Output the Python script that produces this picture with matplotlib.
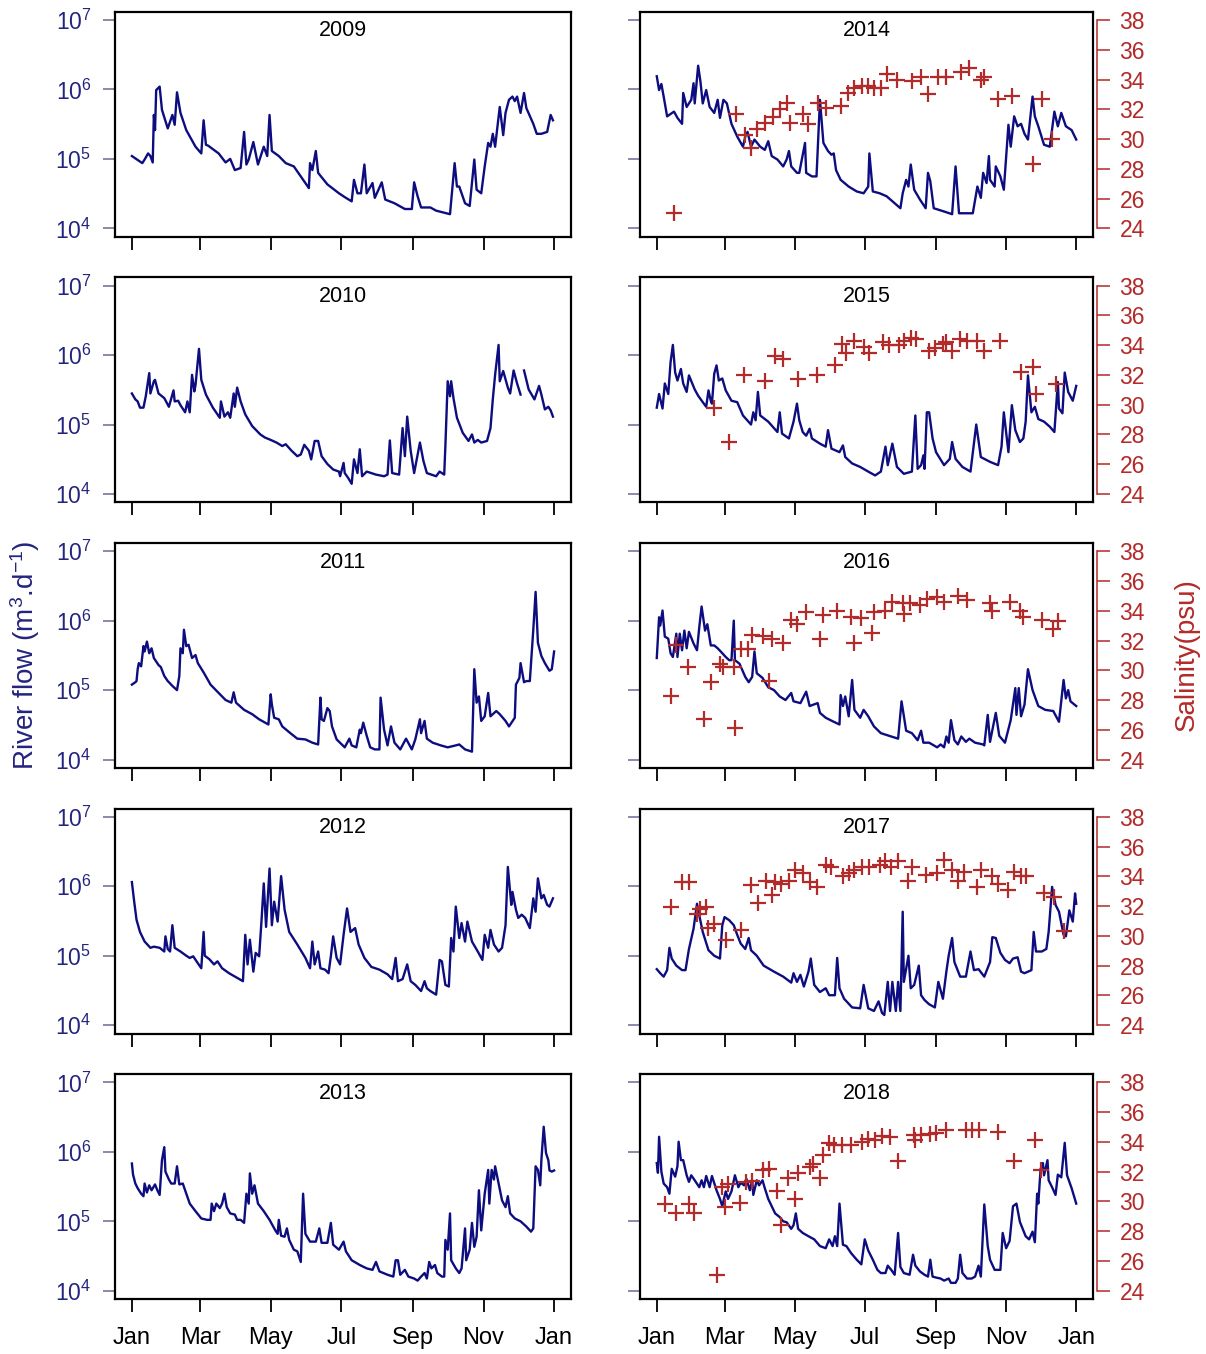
import numpy as np
import matplotlib.pyplot as plt
from matplotlib.ticker import NullLocator

plt.rcParams['font.family'] = ['Liberation Sans', 'DejaVu Sans']
plt.rcParams['mathtext.fontset'] = 'custom'
plt.rcParams['mathtext.rm'] = 'Liberation Sans'
plt.rcParams['mathtext.it'] = 'Liberation Sans:italic'
plt.rcParams['mathtext.bf'] = 'Liberation Sans:bold'

nan = np.nan

# river flow (m3/d), (day of year, value)
flow_2009 = [(1, 1.1e5), (10, 8.7e4), (12, 9.8e4), (15, 1.2e5), (17, 1.1e5), (19, 8.9e4), (20, 4.3e5), (21, 2.6e5),
             (22, 9.8e5), (25, 1.1e6), (27, 5.1e5), (32, 2.75e5), (36, 4.3e5), (38, 3.1e5), (40, 9.1e5), (43, 4.6e5),
             (48, 2.6e5), (56, 1.5e5), (61, 1.2e5), (63, 3.6e5), (65, 1.6e5), (67, 1.55e5), (76, 1.2e5), (82, 8.9e4),
             (86, 1.0e5), (90, 6.9e4), (95, 7.4e4), (98, 2.45e5), (100, 8.3e4), (102, 9.8e4), (106, 1.75e5),
             (110, 8.3e4), (115, 1.5e5), (118, 1.1e5), (120, 4.3e5), (122, 1.3e5), (128, 1.1e5), (134, 8.7e4),
             (141, 7.8e4), (147, 5.6e4), (154, 3.8e4), (155, 8.7e4), (157, 6.9e4), (160, 1.3e5), (162, 6.3e4),
             (170, 4.3e4), (180, 3.2e4), (186, 2.75e4), (191, 2.45e4), (193, 5.0e4), (196, 3.2e4), (199, 3.2e4),
             (202, 8.3e4), (204, 3.2e4), (209, 4.5e4), (211, 2.75e4), (217, 4.6e4), (220, 2.6e4), (228, 2.3e4),
             (237, 1.9e4), (243, 1.9e4), (245, 4.6e4), (248, 2.9e4), (251, 2.0e4), (259, 2.0e4), (264, 1.8e4),
             (276, 1.6e4), (280, 8.7e4), (282, 4.0e4), (284, 4.0e4), (289, 2.3e4), (293, 2.1e4), (297, 9.8e4),
             (299, 3.6e4), (303, 3.2e4), (306, 7.8e4), (309, 1.7e5), (311, 1.5e5), (313, 2.3e5), (315, 1.5e5),
             (319, 5.6e5), (322, 2.2e5), (324, 4.6e5), (327, 7.1e5), (330, 7.9e5), (332, 6.8e5), (334, 7.9e5),
             (337, 4.6e5), (340, 8.9e5), (342, 5.4e5), (348, 3.2e5), (351, 2.3e5), (355, 2.3e5), (360, 2.45e5),
             (363, 4.3e5), (365, 3.6e5)]

flow_2010 = [(1, 2.8e5), (4, 2.3e5), (6, 2.15e5), (8, 1.75e5), (11, 1.75e5), (13, 2.55e5), (16, 5.5e5), (17, 2.8e5),
             (20, 4.2e5), (21, 4.4e5), (24, 2.8e5), (29, 2.4e5), (33, 1.8e5), (37, 3.1e5), (38, 2.15e5), (41, 2.2e5),
             (43, 1.9e5), (47, 1.5e5), (49, 2.15e5), (51, 1.5e5), (53, 5.2e5), (55, 3.0e5), (56, 3.7e5), (59, 1.23e6),
             (61, 4.4e5), (65, 2.7e5), (71, 1.75e5), (77, 1.25e5), (78, 2.15e5), (81, 1.3e5), (84, 1.5e5),
             (86, 1.25e5), (89, 2.8e5), (90, 1.8e5), (92, 3.4e5), (95, 2.15e5), (99, 1.4e5), (105, 9.5e4),
             (112, 7.2e4), (116, 6.5e4), (121, 6.0e4), (126, 5.5e4), (131, 4.9e4), (134, 5.2e4), (139, 4.2e4),
             (144, 3.5e4), (147, 3.7e4), (150, 5.1e4), (154, 4.2e4), (156, 3.15e4), (159, 5.8e4), (162, 5.8e4),
             (165, 3.5e4), (170, 2.7e4), (175, 2.25e4), (180, 2.1e4), (181, 1.8e4), (184, 2.8e4), (185, 2.0e4),
             (188, 1.7e4), (191, 1.4e4), (193, 3.15e4), (196, 2.0e4), (198, 4.4e4), (200, 1.8e4), (204, 2.1e4),
             (212, 1.9e4), (219, 1.8e4), (222, 1.9e4), (224, 5.9e4), (226, 2.0e4), (232, 1.9e4), (235, 8.9e4),
             (237, 3.5e4), (239, 1.3e5), (242, 4.2e4), (245, 2.0e4), (250, 5.5e4), (253, 3.0e4), (256, 2.0e4),
             (264, 1.8e4), (267, 2.1e4), (271, 1.9e4), (272, 4.9e4), (274, 4.2e5), (276, 2.55e5), (277, 4.2e5),
             (279, 2.4e5), (282, 1.25e5), (287, 7.6e4), (292, 5.8e4), (295, 7.2e4), (297, 5.5e4), (300, 6.0e4),
             (303, 5.5e4), (308, 5.8e4), (311, 8.9e4), (313, 2.3e5), (315, 5.2e5), (318, 1.4e6), (319, 4.2e5),
             (322, 5.9e5), (326, 3.4e5), (328, 2.8e5), (331, 6.0e5), (334, 3.9e5), (337, 2.7e5), (339, nan),
             (340, 6.0e5), (344, 3.2e5), (349, 2.3e5), (353, 3.6e5), (355, 2.7e5), (358, 1.65e5), (361, 1.8e5),
             (363, 1.6e5), (365, 1.3e5)]

flow_2011 = [(1, 1.2e5), (4, 1.3e5), (5, 1.35e5), (6, 2.0e5), (7, 2.45e5), (9, 2.2e5), (11, 4.3e5), (12, 3.6e5),
             (14, 5.0e5), (16, 3.4e5), (18, 4.0e5), (20, 2.9e5), (24, 2.3e5), (26, 2.15e5), (29, 1.6e5), (32, 1.35e5),
             (33, 1.3e5), (36, 1.15e5), (40, 1.0e5), (42, 1.6e5), (43, 4.0e5), (45, 3.4e5), (46, 7.4e5), (48, 4.3e5),
             (50, 4.5e5), (53, 2.9e5), (56, 3.2e5), (58, 2.45e5), (63, 1.8e5), (69, 1.2e5), (76, 9.1e4), (82, 7.2e4),
             (87, 6.6e4), (89, 9.3e4), (91, 6.6e4), (98, 5.2e4), (105, 4.5e4), (111, 3.8e4), (119, 3.2e4),
             (121, 8.7e4), (122, 6.2e4), (124, 4.0e4), (128, 3.8e4), (131, 3.0e4), (138, 2.4e4), (144, 2.0e4),
             (151, 1.95e4), (157, 1.75e4), (162, 1.65e4), (164, 7.8e4), (165, 3.8e4), (167, 3.6e4), (170, 5.5e4),
             (172, 5.0e4), (174, 3.0e4), (178, 1.95e4), (185, 1.5e4), (189, 2.0e4), (191, 1.6e4), (195, 1.5e4),
             (198, 2.7e4), (199, 2.4e4), (201, 3.4e4), (204, 2.2e4), (207, 1.5e4), (211, 1.4e4), (215, 1.4e4),
             (216, 7.8e4), (219, 2.7e4), (222, 1.6e4), (225, 3.0e4), (228, 1.75e4), (233, 1.4e4), (238, 2.0e4),
             (243, 1.4e4), (246, 1.95e4), (250, 3.8e4), (251, 2.4e4), (254, 3.6e4), (256, 2.0e4), (261, 1.75e4),
             (268, 1.6e4), (274, 1.5e4), (281, 1.6e4), (284, 1.65e4), (289, 1.4e4), (295, 1.3e4), (297, 2.0e5),
             (299, 6.6e4), (301, 8.1e4), (303, 3.6e4), (306, 4.2e4), (309, 9.1e4), (311, 4.2e4), (316, 5.0e4),
             (319, 4.5e4), (324, 3.6e4), (327, 3.0e4), (332, 4.0e4), (333, 1.2e5), (336, 1.5e5), (337, 2.45e5),
             (340, 1.3e5), (342, 1.35e5), (345, 1.35e5), (348, 7.4e5), (350, 2.6e6), (352, 4.8e5), (355, 3.1e5),
             (358, 2.45e5), (362, 1.9e5), (364, 2.0e5), (366, 3.6e5)]

flow_2012 = [(1, 1.15e6), (3, 6.0e5), (5, 3.3e5), (8, 2.2e5), (12, 1.6e5), (17, 1.3e5), (20, 1.35e5), (25, 1.3e5),
             (29, 1.15e5), (30, 1.9e5), (32, 1.25e5), (34, 1.15e5), (36, 2.75e5), (38, 1.3e5), (43, 1.15e5),
             (48, 1.0e5), (51, 9.3e4), (54, 9.8e4), (58, 7.8e4), (61, 6.6e4), (63, 2.2e5), (64, 1.0e5), (68, 8.9e4),
             (72, 7.5e4), (75, 8.3e4), (79, 6.6e4), (85, 5.6e4), (92, 4.8e4), (97, 4.3e4), (99, 2.0e5), (101, 7.5e4),
             (103, 1.7e5), (106, 5.9e4), (108, 1.1e5), (111, 9.8e4), (113, 3.1e5), (115, 1.1e6), (117, 2.6e5),
             (120, 1.8e6), (122, 2.75e5), (124, 6.0e5), (127, 3.1e5), (130, 1.4e6), (133, 4.6e5), (137, 2.2e5),
             (144, 1.45e5), (151, 9.3e4), (155, 6.6e4), (157, 1.6e5), (159, 7.5e4), (162, 1.15e5), (164, 6.6e4),
             (168, 6.3e4), (171, 5.6e4), (173, 9.8e4), (175, 1.9e5), (178, 9.3e4), (181, 7.5e4), (184, 2.0e5),
             (187, 4.8e5), (190, 2.2e5), (194, 2.5e5), (197, 1.45e5), (202, 9.3e4), (208, 6.9e4), (215, 6.3e4),
             (222, 5.4e4), (226, 4.6e4), (229, 9.3e4), (231, 4.3e4), (235, 4.6e4), (239, 7.5e4), (242, 4.3e4),
             (246, 3.8e4), (251, 3.1e4), (254, 4.3e4), (256, 3.4e4), (259, 3.1e4), (264, 2.75e4), (267, 8.7e4),
             (269, 8.3e4), (272, 3.8e4), (275, 3.6e4), (277, 1.8e5), (279, 1.15e5), (281, 5.1e5), (284, 1.8e5),
             (286, 2.95e5), (289, 1.6e5), (291, 3.1e5), (295, 1.6e5), (300, 1.15e5), (304, 8.7e4), (306, 2.0e5),
             (309, 1.3e5), (311, 2.35e5), (314, 1.45e5), (318, 1.15e5), (321, 1.3e5), (324, 2.75e5), (326, 1.9e6),
             (329, 5.4e5), (330, 8.3e5), (333, 4.6e5), (335, 3.5e5), (338, 3.9e5), (341, 3.5e5), (345, 2.5e5),
             (348, 6.7e5), (350, 4.3e5), (352, 1.3e6), (355, 6.7e5), (357, 7.5e5), (360, 5.4e5), (362, 5.1e5),
             (365, 6.7e5)]

flow_2013 = [(1, 6.8e5), (2, 4.7e5), (4, 3.5e5), (6, 3.0e5), (9, 2.5e5), (11, 2.3e5), (12, 3.5e5), (14, 2.6e5),
             (16, 3.3e5), (18, 2.8e5), (21, 3.4e5), (23, 2.8e5), (25, 2.4e5), (27, 7.6e5), (29, 1.17e6), (30, 5.2e5),
             (33, 4.0e5), (35, 3.5e5), (38, 3.5e5), (40, 6.2e5), (42, 3.4e5), (45, 3.5e5), (48, 2.5e5), (51, 1.8e5),
             (56, 1.4e5), (61, 1.1e5), (66, 1.05e5), (69, 1.05e5), (70, 1.8e5), (72, 1.4e5), (74, 1.8e5),
             (77, 1.55e5), (79, 1.8e5), (81, 2.5e5), (83, 1.6e5), (86, 1.3e5), (90, 1.25e5), (92, 1.05e5),
             (95, 1.05e5), (98, 9.5e4), (100, 2.5e5), (102, 1.8e5), (103, 4.9e5), (105, 2.5e5), (107, 3.3e5),
             (110, 1.8e5), (115, 1.4e5), (120, 1.05e5), (125, 7.4e4), (127, 6.6e4), (128, 1.05e5), (130, 6.2e4),
             (133, 6.0e4), (135, 7.9e4), (137, 5.4e4), (141, 3.9e4), (144, 3.7e4), (147, 2.6e4), (149, 2.5e5),
             (151, 6.6e4), (155, 5.1e4), (160, 5.1e4), (163, 7.9e4), (165, 4.9e4), (170, 4.9e4), (173, 9.5e4),
             (175, 4.6e4), (180, 3.9e4), (184, 5.1e4), (186, 3.7e4), (191, 2.75e4), (198, 2.35e4), (204, 2.1e4),
             (209, 2.0e4), (212, 2.6e4), (215, 1.9e4), (222, 1.7e4), (227, 1.6e4), (229, 2.75e4), (231, 2.75e4),
             (233, 1.7e4), (237, 2.0e4), (240, 1.6e4), (245, 1.5e4), (248, 1.4e4), (251, 1.6e4), (254, 1.8e4),
             (256, 1.5e4), (258, 2.6e4), (260, 2.1e4), (263, 2.35e4), (265, 1.8e4), (269, 1.6e4), (271, 1.6e4),
             (272, 5.4e4), (274, 3.9e4), (276, 1.3e5), (277, 2.75e4), (281, 2.1e4), (284, 1.8e4), (286, 2.1e4),
             (289, 7.9e4), (290, 2.75e4), (293, 3.9e4), (295, 9.5e4), (297, 4.3e4), (299, 6.0e4), (301, 2.8e5),
             (303, 7.4e4), (306, 2.5e5), (309, 5.5e5), (310, 1.8e5), (312, 5.5e5), (314, 4.0e5), (315, 6.2e5),
             (318, 3.5e5), (321, 2.0e5), (324, 1.6e5), (326, 2.3e5), (328, 1.3e5), (332, 1.1e5), (337, 1.0e5),
             (342, 8.4e4), (346, 7.1e4), (348, 7.9e4), (350, 6.2e5), (352, 5.5e5), (354, 3.3e5), (355, 7.6e5),
             (357, 2.3e6), (359, 9.6e5), (361, 7.6e5), (362, 5.4e5), (364, 5.2e5), (366, 5.4e5)]

flow_2014 = [(1, 1.55e6), (3, 9.8e5), (5, 1.2e6), (7, 7.9e5), (10, 4.1e5), (16, 4.8e5), (19, 3.9e5), (23, 3.2e5),
             (24, 8.9e5), (27, 5.6e5), (31, 7.1e5), (33, 1.23e6), (34, 6.3e5), (37, 2.2e6), (39, 1.3e6), (41, 6.3e5),
             (44, 9.8e5), (47, 5.6e5), (51, 4.6e5), (54, 7.1e5), (56, 3.9e5), (59, 7.1e5), (62, 6.3e5), (66, 3.2e5),
             (71, 2.1e5), (76, 1.5e5), (78, 2.1e5), (80, 2.45e5), (83, 1.5e5), (86, 1.9e5), (91, 1.5e5),
             (95, 1.35e5), (98, 1.8e5), (101, 1.1e5), (106, 9.8e4), (111, 7.8e4), (114, 9.8e4), (116, 1.3e5),
             (118, 7.8e4), (123, 6.3e4), (125, 6.3e4), (130, 1.7e5), (131, 6.3e4), (136, 5.6e4), (140, 5.6e4),
             (143, 7.1e5), (146, 1.7e5), (150, 1.3e5), (153, 1.15e5), (155, 1.2e5), (157, 6.9e4), (161, 5.0e4),
             (168, 4.0e4), (175, 3.4e4), (181, 3.2e4), (185, 4.0e4), (186, 1.2e5), (189, 3.4e4), (195, 3.2e4),
             (201, 2.9e4), (208, 2.3e4), (213, 1.95e4), (215, 3.2e4), (218, 5.0e4), (220, 4.0e4), (222, 8.3e4),
             (225, 3.6e4), (230, 2.6e4), (235, 1.95e4), (237, 6.3e4), (239, 4.8e4), (242, 1.95e4), (251, 1.75e4),
             (258, 1.6e4), (261, 7.8e4), (264, 1.65e4), (271, 1.65e4), (276, 1.65e4), (280, 4.0e4), (283, 2.75e4),
             (285, 6.3e4), (288, 4.5e4), (290, 1.1e5), (291, 5.0e4), (295, 4.0e4), (296, 7.8e4), (300, 5.6e4),
             (303, 3.6e4), (307, 3.1e5), (309, 1.5e5), (312, 4.1e5), (315, 2.95e5), (318, 3.2e5), (321, 2.3e5),
             (324, 1.9e5), (328, 7.9e5), (330, 4.1e5), (333, 2.95e5), (338, 1.6e5), (343, 1.5e5), (347, 4.8e5),
             (350, 2.95e5), (353, 4.6e5), (357, 2.95e5), (362, 2.6e5), (366, 1.9e5)]

flow_2015 = [(1, 1.75e5), (3, 2.75e5), (6, 1.7e5), (8, 3.9e5), (11, 2.75e5), (13, 7.9e5), (15, 1.4e6), (17, 5.6e5),
             (19, 4.3e5), (22, 6.3e5), (24, 3.9e5), (27, 2.95e5), (29, 5.1e5), (34, 3.2e5), (37, 2.6e5), (41, 2.1e5),
             (44, 1.8e5), (46, 3.1e5), (48, 2.2e5), (49, 2.0e5), (51, 5.4e5), (53, 7.1e5), (55, 4.3e5), (58, 4.6e5),
             (61, 3.1e5), (66, 2.2e5), (71, 2.1e5), (76, 1.35e5), (83, 1.0e5), (85, 1.5e5), (87, 1.15e5),
             (89, 2.95e5), (91, 1.35e5), (98, 1.1e5), (106, 7.8e4), (108, 1.5e5), (110, 7.4e4), (116, 6.3e4),
             (120, 1.1e5), (123, 2.0e5), (125, 1.15e5), (128, 7.8e4), (131, 6.9e4), (134, 8.7e4), (136, 6.3e4),
             (143, 5.3e4), (148, 4.8e4), (150, 8.3e4), (153, 4.5e4), (160, 4.0e4), (163, 5.0e4), (165, 3.4e4),
             (171, 2.75e4), (178, 2.45e4), (185, 2.1e4), (191, 1.85e4), (196, 2.1e4), (200, 4.8e4), (202, 2.6e4),
             (206, 5.3e4), (210, 2.45e4), (216, 1.95e4), (223, 2.1e4), (226, 1.35e5), (228, 2.3e4), (231, 2.6e4),
             (233, 3.6e4), (234, 2.3e4), (236, 1.5e5), (238, 1.5e5), (241, 6.3e4), (244, 4.0e4), (251, 2.6e4),
             (256, 3.2e4), (258, 5.6e4), (261, 3.2e4), (267, 2.45e4), (274, 2.1e4), (279, 1.0e5), (283, 3.4e4),
             (291, 2.9e4), (298, 2.6e4), (301, 4.8e4), (303, 1.5e5), (307, 4.0e4), (310, 1.9e5), (313, 8.3e4),
             (317, 5.6e4), (320, 6.3e4), (322, 1.1e5), (324, 5.1e5), (327, 1.5e5), (330, 1.8e5), (333, 1.2e5),
             (338, 1.1e5), (343, 9.3e4), (347, 7.8e4), (350, 4.1e5), (351, 1.7e5), (354, 1.45e5), (356, 5.6e5),
             (359, 2.95e5), (363, 2.2e5), (366, 3.6e5)]

flow_2016 = [(1, 2.9e5), (3, 1.12e6), (4, 8.5e5), (6, 1.4e6), (8, 5.9e5), (11, 5.5e5), (13, 3.4e5), (15, 3.0e5),
             (18, 6.5e5), (19, 3.0e5), (21, 6.5e5), (23, 3.75e5), (25, 7.2e5), (27, 4.0e5), (29, 6.9e5), (33, 4.7e5),
             (36, 3.75e5), (38, 8.1e5), (40, 1.6e6), (43, 7.2e5), (45, 8.9e5), (48, 4.4e5), (51, 4.4e5), (54, 4.0e5),
             (58, 3.4e5), (61, 3.0e5), (64, 2.7e5), (66, 2.7e5), (68, 1.0e6), (69, 2.7e5), (73, 2.4e5), (78, 1.55e5),
             (81, 1.3e5), (84, 1.55e5), (86, 3.6e5), (88, 1.75e5), (93, 1.5e5), (98, 1.1e5), (103, 1.0e5),
             (108, 8.1e4), (113, 7.2e4), (118, 9.1e4), (120, 6.9e4), (126, 6.5e4), (131, 9.5e4), (134, 5.9e4),
             (141, 6.5e4), (143, 4.7e4), (148, 4.0e4), (155, 3.5e4), (160, 3.2e4), (161, 8.5e4), (163, 5.9e4),
             (165, 8.1e4), (168, 4.2e4), (171, 1.4e5), (173, 5.2e4), (178, 4.0e4), (181, 5.2e4), (185, 4.2e4),
             (190, 3.0e4), (196, 2.4e4), (205, 2.15e4), (211, 2.0e4), (214, 6.9e4), (218, 2.6e4), (223, 2.4e4),
             (228, 1.9e4), (231, 2.6e4), (233, 1.75e4), (238, 1.75e4), (245, 1.5e4), (248, 1.65e4), (251, 1.5e4),
             (253, 2.15e4), (255, 1.75e4), (257, 3.7e4), (260, 1.9e4), (263, 1.65e4), (266, 2.15e4), (270, 1.8e4),
             (273, 2.0e4), (278, 1.75e4), (285, 1.65e4), (286, 1.6e4), (289, 4.4e4), (291, 1.8e4), (296, 4.7e4),
             (299, 2.2e4), (304, 1.75e4), (309, 3.7e4), (313, 1.07e5), (314, 4.4e4), (316, 1.07e5), (318, 4.2e4),
             (321, 6.2e4), (324, 2.0e5), (328, 1.0e5), (333, 5.9e4), (339, 5.2e4), (346, 5.0e4), (351, 3.5e4),
             (355, 1.4e5), (357, 7.6e4), (359, 1.0e5), (361, 6.9e4), (366, 5.9e4)]

flow_2017 = [(1, 6.4e4), (4, 5.6e4), (7, 5.0e4), (10, 6.2e4), (12, 1.3e5), (14, 9.1e4), (18, 7.2e4), (23, 6.2e4),
             (26, 6.2e4), (29, 1.25e5), (33, 2.45e5), (36, 5.6e5), (38, 3.8e5), (41, 2.2e5), (46, 1.2e5), (51, 1.0e5),
             (56, 9.1e4), (58, 2.75e5), (60, 3.6e5), (64, 3.25e5), (68, 2.75e5), (71, 2.0e5), (74, 1.5e5),
             (78, 1.25e5), (81, 1.8e5), (83, 1.2e5), (88, 1.0e5), (94, 7.2e4), (103, 5.9e4), (111, 5.0e4),
             (118, 4.1e4), (120, 5.6e4), (123, 4.2e4), (126, 5.3e4), (129, 3.6e4), (133, 5.9e4), (135, 9.1e4),
             (138, 3.8e4), (143, 3.0e4), (148, 3.4e4), (151, 2.7e4), (156, 2.7e4), (158, 9.3e4), (160, 3.4e4),
             (164, 2.4e4), (171, 1.8e4), (178, 1.75e4), (181, 3.8e4), (185, 1.75e4), (190, 1.6e4), (194, 2.2e4),
             (197, 1.5e4), (199, 1.4e4), (202, 4.2e4), (204, 1.6e4), (206, 4.2e4), (209, 1.6e4), (211, 4.2e4),
             (213, 1.6e4), (215, 4.3e5), (216, 4.2e4), (220, 1.0e5), (222, 3.4e4), (225, 3.8e4), (229, 7.2e4),
             (231, 2.7e4), (234, 2.3e4), (238, 2.0e4), (243, 1.8e4), (246, 4.2e4), (250, 2.4e4), (253, 5.9e4),
             (255, 1.0e5), (258, 1.8e5), (260, 8.1e4), (265, 5.0e4), (270, 5.0e4), (274, 1.15e5), (277, 6.2e4),
             (281, 6.4e4), (286, 5.0e4), (291, 8.1e4), (293, 1.85e5), (296, 1.8e5), (300, 1.1e5), (304, 8.7e4),
             (308, 7.8e4), (311, 9.1e4), (315, 9.5e4), (318, 5.9e4), (321, 5.6e4), (327, 6.2e4), (329, 2.2e5),
             (331, 1.15e5), (336, 1.15e5), (340, 1.25e5), (342, 2.2e5), (345, 9.8e5), (348, 5.4e5), (351, 4.3e5),
             (355, 2.0e5), (357, 1.9e5), (360, 4.5e5), (363, 3.1e5), (365, 7.9e5), (366, 5.6e5)]

flow_2018 = [(1, 6.9e5), (2, 5.0e5), (3, 1.65e6), (5, 5.2e5), (7, 3.5e5), (10, 3.1e5), (12, 2.5e5), (14, 5.7e5),
             (17, 4.4e5), (19, 6.2e5), (20, 1.4e6), (22, 7.6e5), (24, 7.6e5), (27, 4.6e5), (29, 3.7e5), (31, 4.6e5),
             (34, 3.9e5), (38, 3.1e5), (40, 3.9e5), (42, 3.1e5), (44, 4.5e5), (47, 3.1e5), (49, 4.5e5), (53, 2.8e5),
             (56, 2.1e5), (58, 1.65e5), (61, 2.7e5), (63, 2.1e5), (66, 2.7e5), (69, 4.6e5), (72, 3.1e5), (74, 3.6e5),
             (77, 3.3e5), (79, 4.1e5), (82, 2.8e5), (84, 3.9e5), (85, 2.4e5), (88, 3.9e5), (90, 3.3e5), (93, 3.9e5),
             (95, 3.0e5), (98, 2.1e5), (101, 1.65e5), (104, 1.3e5), (108, 1.15e5), (111, 1.0e5), (114, 9.7e4),
             (118, 7.8e4), (120, 8.8e4), (122, 1.3e5), (124, 7.8e4), (128, 6.8e4), (133, 6.1e4), (138, 5.5e4),
             (143, 4.4e4), (148, 4.1e4), (151, 5.5e4), (154, 4.4e4), (156, 6.1e4), (158, 4.4e4), (160, 1.8e5),
             (163, 4.6e4), (166, 4.4e4), (170, 3.5e4), (175, 2.8e4), (179, 2.4e4), (182, 5.5e4), (185, 3.8e4),
             (189, 2.8e4), (193, 2.0e4), (196, 1.8e4), (200, 1.8e4), (202, 2.3e4), (205, 2.0e4), (208, 1.7e4),
             (211, 6.8e4), (213, 2.2e4), (216, 1.8e4), (221, 1.7e4), (224, 3.3e4), (226, 2.3e4), (230, 1.9e4),
             (234, 1.7e4), (237, 1.6e4), (239, 2.8e4), (241, 1.6e4), (244, 1.55e4), (248, 1.5e4), (251, 1.4e4),
             (255, 1.5e4), (257, 1.3e4), (261, 1.3e4), (263, 1.5e4), (265, 3.3e4), (267, 1.8e4), (271, 1.5e4),
             (275, 1.5e4), (278, 1.6e4), (281, 2.3e4), (283, 1.6e4), (286, 1.75e5), (289, 4.4e4), (291, 2.8e4),
             (295, 2.0e4), (300, 2.0e4), (302, 6.8e4), (305, 4.1e4), (308, 5.2e4), (311, 1.65e5), (314, 1.8e5),
             (317, 9.8e4), (322, 6.1e4), (325, 5.5e4), (328, 7.1e4), (330, 5.0e4), (332, 2.5e5), (333, 1.8e5),
             (335, 5.7e5), (337, 6.9e5), (338, 4.6e5), (341, 7.6e5), (342, 3.9e5), (345, 3.1e5), (348, 2.4e5),
             (350, 4.7e5), (353, 4.3e5), (356, 1.35e6), (358, 4.6e5), (362, 3.0e5), (366, 1.8e5)]

# salinity (psu), (day of year, value)
sal_2014 = [(16, 25.0), (70, 31.7), (78, 30.3), (83, 29.4), (88, 30.7), (95, 31.1), (102, 31.5), (108, 32.0),
            (114, 32.4), (117, 31.1), (128, 31.7), (133, 31.0), (141, 32.4), (148, 32.1), (161, 32.2), (167, 33.1),
            (173, 33.4), (180, 33.6), (185, 33.6), (190, 33.4), (196, 33.4), (201, 34.4), (210, 34.0), (223, 33.9),
            (231, 34.2), (237, 33.0), (246, 34.2), (253, 34.2), (266, 34.5), (273, 34.8), (283, 34.0), (286, 34.2),
            (298, 32.7), (310, 32.9), (328, 28.3), (336, 32.7), (345, 30.0)]

sal_2015 = [(51, 29.8), (64, 27.5), (77, 32.0), (95, 31.6), (104, 33.3), (111, 33.1), (124, 31.7), (140, 32.0),
            (156, 32.7), (162, 34.1), (166, 33.5), (173, 34.3), (181, 33.9), (186, 33.5), (198, 34.2), (203, 34.0),
            (212, 34.0), (216, 34.3), (222, 34.5), (227, 34.4), (238, 33.6), (243, 33.8), (250, 34.1), (253, 34.2),
            (258, 33.6), (265, 34.4), (271, 34.3), (280, 34.3), (286, 33.6), (300, 34.3), (318, 32.2), (328, 32.5),
            (331, 30.7), (348, 31.4)]

sal_2016 = [(13, 28.3), (18, 31.7), (28, 30.2), (42, 26.7), (48, 29.2), (56, 30.4), (59, 30.2), (68, 30.2),
            (69, 26.1), (74, 31.4), (80, 31.4), (84, 32.4), (93, 32.3), (99, 29.3), (101, 32.1), (111, 31.8),
            (118, 33.4), (123, 33.1), (131, 33.9), (143, 32.1), (146, 33.7), (158, 34.0), (170, 33.6), (173, 31.8),
            (179, 33.5), (188, 32.5), (190, 33.9), (200, 34.0), (206, 34.6), (215, 34.5), (216, 33.8), (221, 34.5),
            (230, 34.4), (236, 34.8), (245, 34.9), (251, 34.6), (263, 35.0), (271, 34.7), (291, 34.5), (293, 34.0),
            (308, 34.6), (317, 34.0), (320, 33.6), (336, 33.4), (346, 32.8), (350, 33.3)]

sal_2017 = [(13, 31.95), (23, 33.6), (29, 33.6), (36, 31.5), (39, 31.8), (44, 31.95), (46, 30.5), (51, 30.8),
            (61, 29.7), (74, 30.4), (83, 33.4), (89, 32.2), (96, 33.7), (101, 32.75), (104, 33.6), (109, 33.5),
            (116, 33.7), (121, 34.4), (128, 34.2), (134, 33.6), (140, 33.3), (148, 34.75), (153, 34.6), (163, 34.0),
            (168, 34.2), (173, 34.4), (180, 34.6), (186, 34.6), (195, 34.75), (200, 35.0), (205, 34.6), (211, 35.0),
            (220, 33.7), (223, 34.6), (235, 34.1), (245, 34.2), (251, 35.1), (258, 34.4), (263, 33.7), (268, 34.3),
            (280, 33.3), (283, 34.4), (293, 34.0), (298, 33.5), (307, 33.1), (312, 34.3), (318, 34.0), (322, 34.0),
            (338, 32.85), (347, 32.6), (355, 30.3)]

sal_2018 = [(8, 29.8), (18, 29.2), (29, 29.8), (33, 29.2), (53, 25.05), (58, 31.0), (60, 29.65), (63, 31.2),
            (73, 29.9), (79, 31.3), (84, 31.4), (93, 32.1), (99, 32.2), (106, 30.7), (109, 28.4), (115, 31.6),
            (121, 30.2), (124, 31.9), (134, 32.3), (137, 32.5), (143, 31.6), (146, 33.1), (151, 33.9), (155, 33.8),
            (162, 33.8), (170, 33.8), (180, 34.0), (185, 34.2), (191, 34.1), (197, 34.4), (204, 34.3), (211, 32.7),
            (225, 34.5), (226, 34.1), (231, 34.5), (239, 34.55), (244, 34.6), (253, 34.8), (270, 34.8), (275, 34.8),
            (281, 34.8), (298, 34.7), (312, 32.7), (330, 34.1), (335, 32.1)]

month_days = [1, 60, 121, 182, 244, 305, 366]
month_labels = ['Jan', 'Mar', 'May', 'Jul', 'Sep', 'Nov', 'Jan']
flow_ticks = [1e4, 1e5, 1e6, 1e7]
flow_tick_labels = [r'$10^{4}$', r'$10^{5}$', r'$10^{6}$', r'$10^{7}$']
sal_ticks = [24, 26, 28, 30, 32, 34, 36, 38]

left_years = [2009, 2010, 2011, 2012, 2013]
right_years = [2014, 2015, 2016, 2017, 2018]
flows = {2009: flow_2009, 2010: flow_2010, 2011: flow_2011, 2012: flow_2012, 2013: flow_2013,
         2014: flow_2014, 2015: flow_2015, 2016: flow_2016, 2017: flow_2017, 2018: flow_2018}
sals = {2014: sal_2014, 2015: sal_2015, 2016: sal_2016, 2017: sal_2017, 2018: sal_2018}

navy = '#0d0d80'
blue_lab = '#24247f'
blue_tick = '#6a6a96'
red = '#b32a2a'

W, H = 1206, 1354
fig = plt.figure(figsize=(W / 100, H / 100), dpi=100)


def panel(col, row, year):
    x0 = [115, 640][col]
    w = [456, 453][col]
    top = 11.7 + 265.6 * row
    h = 225
    ax = fig.add_axes([x0 / W, 1 - (top + h) / H, w / W, h / H])
    d, q = np.array(flows[year], dtype=float).T
    ax.plot(d, q, color=navy, lw=1.7)
    ax.set_yscale('log')
    ax.set_ylim(10 ** 3.88, 10 ** 7.12)
    ax.set_xlim(1 - 14.6, 366 + 14.6)
    ax.yaxis.set_minor_locator(NullLocator())
    ax.set_yticks(flow_ticks)
    if col == 0:
        ax.set_yticklabels(flow_tick_labels)
    else:
        ax.set_yticklabels([''] * 4)
    ax.set_xticks(month_days)
    if row == 4:
        ax.set_xticklabels(month_labels)
    else:
        ax.set_xticklabels([''] * 7)
    ax.tick_params(axis='y', direction='out', length=9, width=1.1, color=blue_tick,
                   labelcolor=blue_lab, labelsize=16.5, pad=8)
    ax.tick_params(axis='x', direction='out', length=9, width=1.3, color='black',
                   labelsize=17, pad=11)
    for s in ax.spines.values():
        s.set_linewidth(1.6)
    ax.text(0.5, 0.915, str(year), transform=ax.transAxes, ha='center', va='center', fontsize=15.5)

    if year in sals:
        ax2 = ax.twinx()
        sd, sv = np.array(sals[year], dtype=float).T
        ax2.plot(sd, sv, ls='none', marker='+', ms=12, mew=1.6, color=red)
        ax2.set_ylim(23.44, 38.56)
        ax2.set_yticks(sal_ticks)
        for s in ['top', 'bottom', 'left']:
            ax2.spines[s].set_visible(False)
        ax2.spines['right'].set_color(red)
        ax2.spines['right'].set_linewidth(1.1)
        ax2.spines['right'].set_position(('outward', 3))
        ax2.spines['right'].set_bounds(24, 38)
        ax2.tick_params(axis='y', direction='out', length=9, width=1.1, color=red,
                        labelcolor=red, labelsize=16.5, pad=7)
    return ax


for r, yr in enumerate(left_years):
    panel(0, r, yr)
for r, yr in enumerate(right_years):
    panel(1, r, yr)

fig.text(25 / W, 1 - 655 / H, r'River flow (m$^{3}$.d$^{-1}$)', rotation=90, ha='center', va='center',
         fontsize=20, color=blue_lab)
fig.text(1187 / W, 1 - 655 / H, 'Salinity(psu)', rotation=90, ha='center', va='center',
         fontsize=20, color=red)

fig.savefig('out.png', dpi=100)
